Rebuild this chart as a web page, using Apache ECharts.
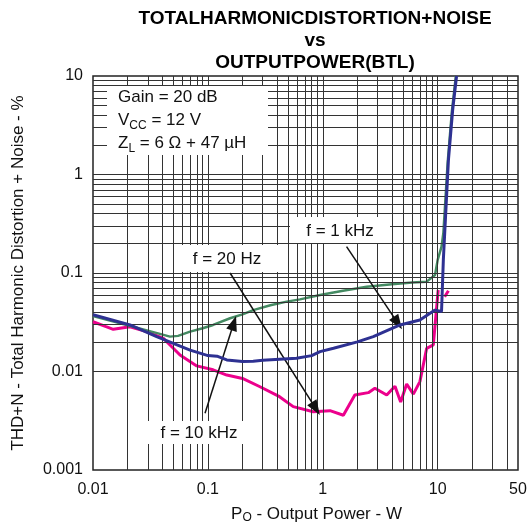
<!DOCTYPE html>
<html>
<head>
<meta charset="utf-8">
<script src="https://cdn.jsdelivr.net/npm/echarts@6/dist/echarts.min.js"></script>
<style>
  html, body { margin: 0; padding: 0; background: #fff; }
  #chart { width: 531px; height: 525px; }
</style>
</head>
<body>
<div id="chart"></div>
<script>
// axis ranges and tick labels
const xTicks = [0.01, 0.1, 1, 10, 50];
const yTicks = [0.001, 0.01, 0.1, 1, 10];

// f = 20 Hz (pink)
const thd20Hz = [
  [0.01, 0.032], [0.013, 0.0285], [0.015, 0.0268], [0.021, 0.0285], [0.0293, 0.0254],
  [0.041, 0.0217], [0.0468, 0.0186], [0.0572, 0.0147], [0.08, 0.0114], [0.111, 0.0104],
  [0.146, 0.0092], [0.2, 0.0085], [0.284, 0.007], [0.42, 0.00555], [0.553, 0.0044],
  [0.826, 0.0039], [1.156, 0.004], [1.51, 0.0036], [1.9, 0.00577], [2.49, 0.0061],
  [2.84, 0.00675], [3.6, 0.00577], [4.25, 0.0071], [4.76, 0.0049], [5.37, 0.00746],
  [6.14, 0.0059], [7.0, 0.0079], [8.02, 0.0172], [9.16, 0.0186], [10.1, 0.0672],
  [10.8, '-'], [11.5, 0.0574], [12.4, 0.066]
];

// f = 1 kHz (blue)
const thd1kHz = [
  [0.01, 0.0377], [0.021, 0.0297], [0.0358, 0.0226], [0.05, 0.0193], [0.07, 0.0165],
  [0.1, 0.0145], [0.12, 0.0143], [0.146, 0.0131], [0.2, 0.0126], [0.248, 0.0127],
  [0.3, 0.013], [0.42, 0.0133], [0.59, 0.0136], [0.8, 0.0145], [0.946, 0.0159],
  [1.24, 0.0172], [2, 0.02], [2.75, 0.0226], [4.7, 0.0297], [7, 0.0333],
  [9.48, 0.042], [10.8, 0.0407], [11.2, 0.136], [12.4, 1.4], [13.5, 4.5], [14.6, 10]
];

// f = 10 kHz (green)
const thd10kHz = [
  [0.01, 0.0366], [0.02, 0.0295], [0.03, 0.026], [0.0468, 0.0226], [0.055, 0.023],
  [0.07, 0.0254], [0.09, 0.0275], [0.111, 0.0297], [0.156, 0.0347], [0.2, 0.038],
  [0.248, 0.042], [0.35, 0.047], [0.485, 0.0512], [0.633, 0.054], [0.946, 0.0598],
  [1.5, 0.066], [2.41, 0.0726], [4, 0.077], [6, 0.08], [8.02, 0.0817],
  [9.48, 0.0955], [10.0, 0.136], [10.8, 0.185], [11.2, 0.253], [12.2, 1.3],
  [13.3, 4.4], [14.4, 10]
];

// arrows from labels to curves: [start, end]
const arrows = [
  [[0.156, 0.1], [0.87, 0.0042]],      // f = 20 Hz
  [[1.61, 0.185], [4.5, 0.031]],       // f = 1 kHz
  [[0.0944, 0.00376], [0.168, 0.031]]  // f = 10 kHz
];

// log grid lines (1..9 in every decade)
function gridValues(lo, hi) {
  const out = [];
  for (let d = lo; d < hi * 0.999; d *= 10) {
    for (let m = 1; m <= 9; m++) {
      const v = +(d * m).toPrecision(3);
      if (v > lo && v < hi) out.push(v);
    }
  }
  return out;
}
const xGrid = gridValues(0.01, 50);
const yGrid = gridValues(0.001, 10);

const chart = echarts.init(document.getElementById('chart'));
const font = 'Liberation Sans, Arial, sans-serif';

const gridLines = [];
xGrid.forEach(v => gridLines.push({ xAxis: v }));
yGrid.forEach(v => gridLines.push({ yAxis: v }));

chart.setOption({
  animation: false,
  title: {
    text: 'TOTALHARMONICDISTORTION+NOISE\nvs\nOUTPUTPOWER(BTL)',
    left: 310,
    top: 3,
    textAlign: 'center',
    textStyle: { fontFamily: font, fontSize: 19, fontWeight: 'bold', color: '#000', lineHeight: 22 }
  },
  grid: {
    left: 93, right: 13, top: 76, bottom: 55,
    outerBoundsMode: 'none',
    containLabel: false,
    show: true, borderColor: '#222', borderWidth: 1.5, backgroundColor: '#fff'
  },
  xAxis: {
    type: 'log',
    min: 0.01,
    max: 50,
    logBase: 10,
    axisLine: { show: false },
    axisTick: { show: false },
    splitLine: { show: false },
    axisLabel: {
      fontFamily: font, fontSize: 16, color: '#111', margin: 12,
      formatter: v => {
        const hit = xTicks.find(t => Math.abs(t - v) / t < 1e-6);
        return hit !== undefined ? String(hit) : '';
      }
    },
    name: '{a|P}{s|O}{a| - Output Power - W}',
    nameLocation: 'middle',
    nameGap: 34,
    nameTextStyle: {
      padding: [0, 0, 0, 22],
      rich: {
        a: { fontFamily: font, fontSize: 17, color: '#111', lineHeight: 20 },
        s: { fontFamily: font, fontSize: 12, color: '#111', lineHeight: 12, verticalAlign: 'bottom' }
      }
    }
  },
  yAxis: {
    type: 'log',
    min: 0.001,
    max: 10,
    logBase: 10,
    axisLine: { show: false },
    axisTick: { show: false },
    splitLine: { show: false },
    axisLabel: {
      fontFamily: font, fontSize: 16, color: '#111', margin: 10,
      formatter: v => {
        const hit = yTicks.find(t => Math.abs(t - v) / t < 1e-6);
        return hit !== undefined ? String(hit) : '';
      }
    },
    name: 'THD+N - Total Harmonic Distortion + Noise - %',
    nameLocation: 'middle',
    nameGap: 66,
    nameTextStyle: { fontFamily: font, fontSize: 17, color: '#111' }
  },
  series: [
    {
      // grid
      type: 'line',
      data: [],
      z: 1,
      silent: true,
      markLine: {
        silent: true,
        symbol: ['none', 'none'],
        label: { show: false },
        lineStyle: { color: '#333', width: 1, type: 'solid' },
        data: gridLines
      }
    },
    {
      name: 'f = 20 Hz',
      type: 'line',
      data: thd20Hz,
      showSymbol: false,
      connectNulls: false,
      lineStyle: { color: '#ec008c', width: 3 },
      itemStyle: { color: '#ec008c' },
      z: 3
    },
    {
      name: 'f = 10 kHz',
      type: 'line',
      data: thd10kHz,
      showSymbol: false,
      lineStyle: { color: '#448a62', width: 2.5 },
      itemStyle: { color: '#448a62' },
      z: 4
    },
    {
      name: 'f = 1 kHz',
      type: 'line',
      data: thd1kHz,
      showSymbol: false,
      lineStyle: { color: '#2e3192', width: 3 },
      itemStyle: { color: '#2e3192' },
      z: 5
    },
    {
      // annotation arrows
      type: 'line',
      data: [],
      z: 6,
      silent: true,
      markLine: {
        silent: true,
        symbol: ['none', 'triangle'],
        symbolSize: [11, 15],
        label: { show: false },
        lineStyle: { color: '#111', width: 1.5, type: 'solid' },
        data: arrows.map(a => [{ coord: a[0] }, { coord: a[1] }])
      }
    }
  ],
  graphic: [
    { type: 'rect', z: 100, shape: { x: 107, y: 86, width: 161, height: 69 }, style: { fill: '#fff' } },
    {
      type: 'text', z: 101, left: 118, top: 89,
      style: {
        text: '{a|Gain = 20 dB}\n{a|V}{s|CC}{a| = 12 V}\n{a|Z}{s|L}{a| = 6 \u03A9 + 47 \u00B5H}',
        rich: {
          a: { fontFamily: font, fontSize: 17, fill: '#111', lineHeight: 23 },
          s: { fontFamily: font, fontSize: 12, fill: '#111', lineHeight: 12, verticalAlign: 'bottom' }
        }
      }
    },
    { type: 'rect', z: 100, shape: { x: 290, y: 217, width: 100, height: 26 }, style: { fill: '#fff' } },
    { type: 'text', z: 101, x: 340, y: 231, style: { text: 'f = 1 kHz', fontFamily: font, fontSize: 17, fill: '#111', align: 'center', verticalAlign: 'middle' } },
    { type: 'rect', z: 100, shape: { x: 180, y: 245, width: 98, height: 27 }, style: { fill: '#fff' } },
    { type: 'text', z: 101, x: 227, y: 259, style: { text: 'f = 20 Hz', fontFamily: font, fontSize: 17, fill: '#111', align: 'center', verticalAlign: 'middle' } },
    { type: 'rect', z: 100, shape: { x: 147, y: 421, width: 107, height: 23 }, style: { fill: '#fff' } },
    { type: 'text', z: 101, x: 199, y: 433, style: { text: 'f = 10 kHz', fontFamily: font, fontSize: 17, fill: '#111', align: 'center', verticalAlign: 'middle' } }
  ]
});
</script>
</body>
</html>
